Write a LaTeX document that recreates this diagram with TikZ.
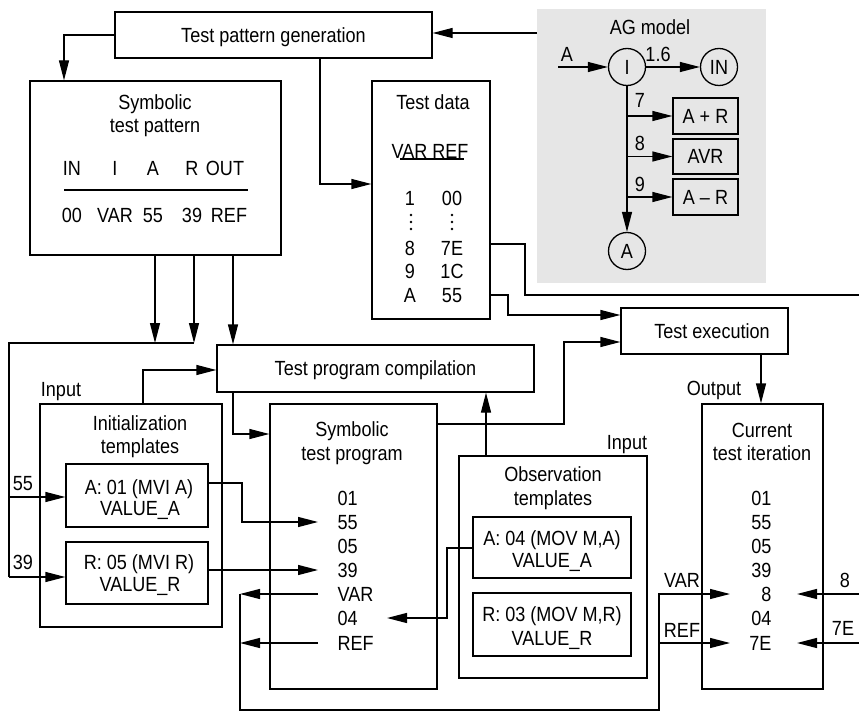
\documentclass[tikz,border=0pt]{standalone}
\usepackage{fontspec}
\setmainfont{Liberation Sans}[FakeStretch=0.88]
\usetikzlibrary{arrows.meta}
\definecolor{agfill}{RGB}{230,230,230}
\newcommand\diagfont{\fontsize{20.5pt}{24pt}\selectfont}

\begin{document}
\begin{tikzpicture}[x=1pt,y=-1pt,line width=1.3pt,
  every node/.style={font=\diagfont,inner sep=0pt,text height=14.7pt,text depth=0pt},
  box/.style={draw,rectangle,inner sep=0pt},
  ring/.style={draw,circle,minimum size=37pt,inner sep=0pt},
  arr/.style={-{Triangle[length=20pt,width=10pt]}}]
\useasboundingbox (0,0) rectangle (859,711);

% ---------- AG model panel ----------
\node[fill=agfill,minimum width=229pt,minimum height=274pt] (ag) at (651.5,146) {};
\node at (650,27) {AG model};
\node[ring] (cI) at (627,67) {I};
\node[ring] (cIN) at (719,67) {IN};
\node[ring] (cA) at (627,251) {A};
\node[box,minimum width=65pt,minimum height=36pt] (apr) at (705.5,116) {A + R};
\node[box,minimum width=65pt,minimum height=35pt] (avr) at (705.5,156.5) {AVR};
\node[box,minimum width=65pt,minimum height=36pt] (amr) at (705.5,197) {A \textendash{} R};
\node at (567,54) {A};
\node at (658,54) {1.6};
\node at (640,100) {7};
\node at (640,143) {8};
\node at (640,184) {9};
\coordinate (a1) at (558,67);
\draw[arr] (a1) -- (cI);
\draw[arr] (cI) -- (cIN);
\draw[arr] (cI) -- (cA);
\draw[arr] (cI |- apr.west) -- (apr.west);
\draw[arr] (cI |- avr.west) -- (avr.west);
\draw[arr] (cI |- amr.west) -- (amr.west);

% ---------- Test pattern generation ----------
\node[box,minimum width=317pt,minimum height=46pt] (tpg) at (273.5,35) {Test pattern generation};
\coordinate (a0) at (537,33);
\draw[arr] (a0) -- (a0 -| tpg.east);

% ---------- Symbolic test pattern ----------
\node[box,minimum width=251pt,minimum height=174pt] (stp) at (155.5,168) {};
\node at (155,102) {Symbolic};
\node at (155,125) {test pattern};
\node at (72,168) {IN};
\node at (115,168) {I};
\node at (153,168) {A};
\node at (192,168) {R};
\node at (225,168) {OUT};
\draw (64,190) -- (248,190);
\node at (72,215) {00};
\node at (115,215) {VAR};
\node at (153,215) {55};
\node at (192,215) {39};
\node at (229,215) {REF};
\coordinate (g1) at (64,35);
\draw[arr] (tpg.west) -- (g1) -- (g1 |- stp.north);

% ---------- Test data ----------
\node[box,minimum width=118pt,minimum height=238pt] (td) at (431,200) {};
\node at (433,102) {Test data};
\node at (430,151) {VAR REF};
\draw (400,159) -- (464,159);
\node at (410,198) {1};   \node at (452,198) {00};
\foreach \cx in {411,452} \foreach \cy in {215,222,229} \fill (\cx,\cy) circle (1.3);
\node at (410,248) {8};   \node at (452,248) {7E};
\node at (410,271) {9};   \node at (452,271) {1C};
\node at (410,295) {A};   \node at (452,295) {55};
\coordinate (g2) at (320,184);
\draw[arr] (g2 |- tpg.south) -- (g2) -- (g2 -| td.west);

% ---------- Test program compilation ----------
\node[box,minimum width=317pt,minimum height=47pt] (tpc) at (375.5,368.5) {Test program compilation};

% ---------- Test execution ----------
\node[box,minimum width=167pt,minimum height=46pt] (te) at (704.5,331) {};
\node at (712,331) {Test execution};
\node at (714,388) {Output};

% ---------- Initialization templates ----------
\node at (61,389) {Input};
\node[box,minimum width=182pt,minimum height=223pt] (it) at (131,515.5) {};
\node at (140,423) {Initialization};
\node at (140,446) {templates};
\node[box,minimum width=142pt,minimum height=63pt] (ia) at (137,495.5) {};
\node at (139,487) {A: 01 (MVI A)};
\node at (140,508) {VALUE\_A};
\node[box,minimum width=142pt,minimum height=62pt] (ir) at (137,573) {};
\node at (139,562) {R: 05 (MVI R)};
\node at (140,584) {VALUE\_R};
\node at (23,483) {55};
\node at (23,562) {39};

% ---------- Symbolic test program ----------
\node[box,minimum width=167pt,minimum height=285pt] (sp) at (353.5,546.5) {};
\node at (352,429) {Symbolic};
\node at (352,453) {test program};
\node[anchor=west] (p01) at (337,498) {01};
\node[anchor=west] (p55) at (337,522) {55};
\node[anchor=west] (p05) at (337,546) {05};
\node[anchor=west] (p39) at (337,570) {39};
\node[anchor=west] (pVAR) at (337,594) {VAR};
\node[anchor=west] (p04) at (337,618) {04};
\node[anchor=west] (pREF) at (337,643) {REF};

% ---------- Observation templates ----------
\node at (627,442) {Input};
\node[box,minimum width=188pt,minimum height=222pt] (ot) at (553,567) {};
\node at (553,474) {Observation};
\node at (553,498) {templates};
\node[box,minimum width=158pt,minimum height=61pt] (oa) at (552,547.5) {};
\node at (552,538) {A: 04 (MOV M,A)};
\node at (552,560) {VALUE\_A};
\node[box,minimum width=158pt,minimum height=63pt] (or) at (552,624.5) {};
\node at (552,614) {R: 03 (MOV M,R)};
\node at (552,638) {VALUE\_R};

% ---------- Current test iteration ----------
\node[box,minimum width=121pt,minimum height=285pt] (ci) at (762.5,546.5) {};
\node at (762,430) {Current};
\node at (762,453) {test iteration};
\node[anchor=east] (c01) at (772,498) {01};
\node[anchor=east] (c55) at (772,522) {55};
\node[anchor=east] (c05) at (772,546) {05};
\node[anchor=east] (c39) at (772,570) {39};
\node[anchor=east] (c8)  at (772,594) {8};
\node[anchor=east] (c04) at (772,618) {04};
\node[anchor=east] (c7E) at (772,643) {7E};
\node at (682,580) {VAR};
\node at (682,630) {REF};
\node at (845,580) {8};
\node at (843,628) {7E};

% ---------- connectors ----------
% symbolic test pattern down to compilation and input templates
\coordinate (j1) at (155,343);
\coordinate (j2) at (194,343);
\coordinate (j3) at (233,343);
\coordinate (l0) at (9,343);
\coordinate (l55) at (9,497);
\coordinate (l39) at (9,577);
\draw[arr] (j1 |- stp.south) -- (j1);
\draw[arr] (j2 |- stp.south) -- (j2);
\draw[arr] (j3 |- stp.south) -- (j3 |- tpc.north);
\draw (j2) -- (l0) -- (l39);
\draw[arr] (l55) -- (l55 -| ia.west);
\draw[arr] (l39) -- (l39 -| ir.west);

% templates and compilation
\coordinate (k1) at (143,370);
\draw[arr] (k1 |- it.north) -- (k1) -- (k1 -| tpc.west);
\coordinate (k2) at (233,434);
\draw[arr] (k2 |- tpc.south) -- (k2) -- (k2 -| sp.west);
\coordinate (m1) at (242,483);
\draw[arr] (m1 -| ia.east) -- (m1) |- ([xshift=-19pt]p55.west);
\draw[arr] (ir.east |- p39.west) -- ([xshift=-19pt]p39.west);

% observed values loop to current iteration
\coordinate (lb1) at (240,710);
\coordinate (lb2) at (659,710);
\coordinate (tV) at (730,594);
\coordinate (tR) at (730,643);
\draw[arr] ([xshift=-19pt]pVAR.west) -- (pVAR.west -| lb1);
\draw[arr] ([xshift=-19pt]pREF.west) -- (pREF.west -| lb1);
\draw[arr] (pVAR.west -| lb1) -- (lb1) -- (lb2) -- (lb2 |- tV) -- (tV);
\draw[arr] (lb2 |- tR) -- (tR);

% reference values from the right
\coordinate (r8) at (859,594);
\coordinate (r7) at (859,643);
\coordinate (t8) at (797,594);
\coordinate (t7) at (797,643);
\draw[arr] (r8) -- (t8);
\draw[arr] (r7) -- (t7);

% observation templates
\coordinate (o1) at (447,548);
\coordinate (t04) at (387,618);
\draw[arr] (o1 -| oa.west) -- (o1) |- (t04);
\coordinate (o2) at (486,456);
\draw[arr] (o2 |- ot.north) -- (o2 |- tpc.south);

% program to execution
\coordinate (s1) at (564,424);
\coordinate (s2) at (564,342);
\draw[arr] (s1 -| sp.east) -- (s1) -- (s2) -- (s2 -| te.west);

% test data outputs
\coordinate (d1) at (525,244);
\coordinate (d2) at (525,295);
\coordinate (d3) at (859,295);
\draw (d1 -| td.east) -- (d1) -- (d2) -- (d3);
\coordinate (e1) at (508,295);
\coordinate (e2) at (508,315);
\draw[arr] (e1 -| td.east) -- (e1) -- (e2) -- (e2 -| te.west);

% execution output
\coordinate (u1) at (761,354);
\draw[arr] (u1 |- te.south) -- (u1 |- ci.north);
\end{tikzpicture}
\end{document}
